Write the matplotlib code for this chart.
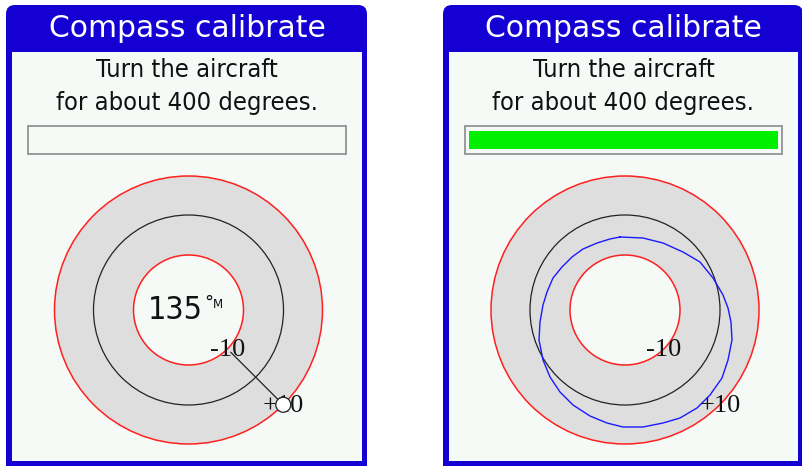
import numpy as np
import matplotlib.pyplot as plt
from matplotlib import font_manager
from matplotlib.patches import Circle, Wedge, Rectangle, FancyBboxPatch

# dialog text
title = "Compass calibrate"
prompt = ["Turn the aircraft", "for about 400 degrees."]

# ring scale labels (inner, middle, outer) and their radius in px
ring_values = [-10, 0, 10]
ring_radius = [55, 95, 134]

# left screen: current heading, no progress yet
heading = 135
progress_left = 0.0

# right screen: full progress, recorded samples (offset from centre, px, y up)
progress_right = 1.0
samp_dx = [-5, 18, 38, 58, 75, 88, 98, 103, 106, 107, 103, 97, 85, 72, 55, 38,
           18, -2, -18, -35, -52, -65, -75, -82, -86, -85, -82, -78, -72, -63,
           -53, -42, -28, -15]
samp_dy = [73, 72, 67, 58, 48, 32, 15, 2, -12, -30, -50, -68, -85, -98, -108,
           -113, -117, -117, -113, -106, -95, -82, -67, -50, -30, -12, 5, 18,
           32, 43, 53, 61, 67, 71]

BLUE = '#1400d2'
BG = '#f5faf7'
GREY = '#dedede'

# condensed face for the body text if it is installed
has_cond = any(f.name == 'DejaVu Sans' and f.stretch == 'condensed'
               for f in font_manager.fontManager.ttflist)
body = dict(fontstretch='condensed') if has_cond else dict()
body_size = 18.3 if has_cond else 16.6

fig = plt.figure(figsize=(8.03, 4.66), dpi=100)
ax = fig.add_axes([0, 0, 1, 1])
ax.set_xlim(0, 803)
ax.set_ylim(466, 0)
ax.axis('off')


def draw_panel(x0, x1, progress):
    # blue frame with rounded top corners
    ax.add_patch(FancyBboxPatch((x0, 5), x1 - x0, 40, boxstyle='round,pad=0,rounding_size=9',
                                fc=BLUE, ec='none'))
    ax.add_patch(Rectangle((x0, 25), x1 - x0, 441, fc=BLUE, ec='none'))
    ix0, ix1 = x0 + 6, x1 - 5
    ax.add_patch(Rectangle((ix0, 52), ix1 - ix0, 409, fc=BG, ec='none'))
    tx = (ix0 + ix1) / 2
    ax.text(tx, 37, title, color='white', fontsize=21.5, ha='center', va='baseline')
    ax.text(tx, 77, prompt[0], color='#111111', fontsize=body_size, ha='center',
            va='baseline', **body)
    ax.text(tx, 110, prompt[1], color='#111111', fontsize=body_size, ha='center',
            va='baseline', **body)
    # progress bar
    bx0, bx1 = ix0 + 16, ix1 - 16
    ax.add_patch(Rectangle((bx0, 126), bx1 - bx0, 28, fc='none', ec='#8a8a8a', lw=1.2))
    if progress > 0:
        ax.add_patch(Rectangle((bx0 + 4, 131), (bx1 - bx0 - 8) * progress, 18,
                               fc='#00ee00', ec='none'))
    cx, cy = tx + 1.5, 310
    # grey annulus between inner and outer rings
    ax.add_patch(Wedge((cx, cy), ring_radius[2], 0, 360,
                       width=ring_radius[2] - ring_radius[0], fc=GREY, ec='none'))
    ax.add_patch(Circle((cx, cy), ring_radius[0], fc='none', ec='#ff2020', lw=1.1))
    ax.add_patch(Circle((cx, cy), ring_radius[2], fc='none', ec='#ff2020', lw=1.1))
    ax.add_patch(Circle((cx, cy), ring_radius[1], fc='none', ec='#222222', lw=0.9))
    return cx, cy


def label_rings(cx, cy):
    b = np.radians(135)
    for v, r in ((ring_values[0], ring_radius[0]), (ring_values[2], ring_radius[2])):
        ax.text(cx + r * np.sin(b), cy - r * np.cos(b) + 1, '%+d' % v if v > 0 else '%d' % v,
                family='Liberation Serif', fontsize=19, ha='center', va='center',
                color='#111111', zorder=4)


# left screen
cx, cy = draw_panel(6, 367, progress_left)
ax.text(cx - 41, 319, str(heading), fontsize=23 if has_cond else 21, ha='left',
        va='baseline', color='#111111', **body)
ax.text(cx + 16, 308, '°', fontsize=13, ha='left', va='baseline', color='#111111')
ax.text(cx + 24, 308, 'M', fontsize=8.5, ha='left', va='baseline', color='#111111')
label_rings(cx, cy)
b = np.radians(heading)
r0, r1 = 60, ring_radius[2]
ax.plot([cx + r0 * np.sin(b), cx + r1 * np.sin(b)],
        [cy - r0 * np.cos(b), cy - r1 * np.cos(b)], color='#222222', lw=0.9, zorder=5)
ax.add_patch(Circle((cx + r1 * np.sin(b), cy - r1 * np.cos(b)), 7.5,
                    fc='white', ec='#222222', lw=0.9, zorder=6))

# right screen
cx, cy = draw_panel(443, 803, progress_right)
xs = [cx + d for d in samp_dx] + [cx + samp_dx[0]]
ys = [cy - d for d in samp_dy] + [cy - samp_dy[0]]
ax.plot(xs, ys, color='#1a1aff', lw=1.0, zorder=3)
label_rings(cx, cy)

fig.savefig('out.png', dpi=100)
